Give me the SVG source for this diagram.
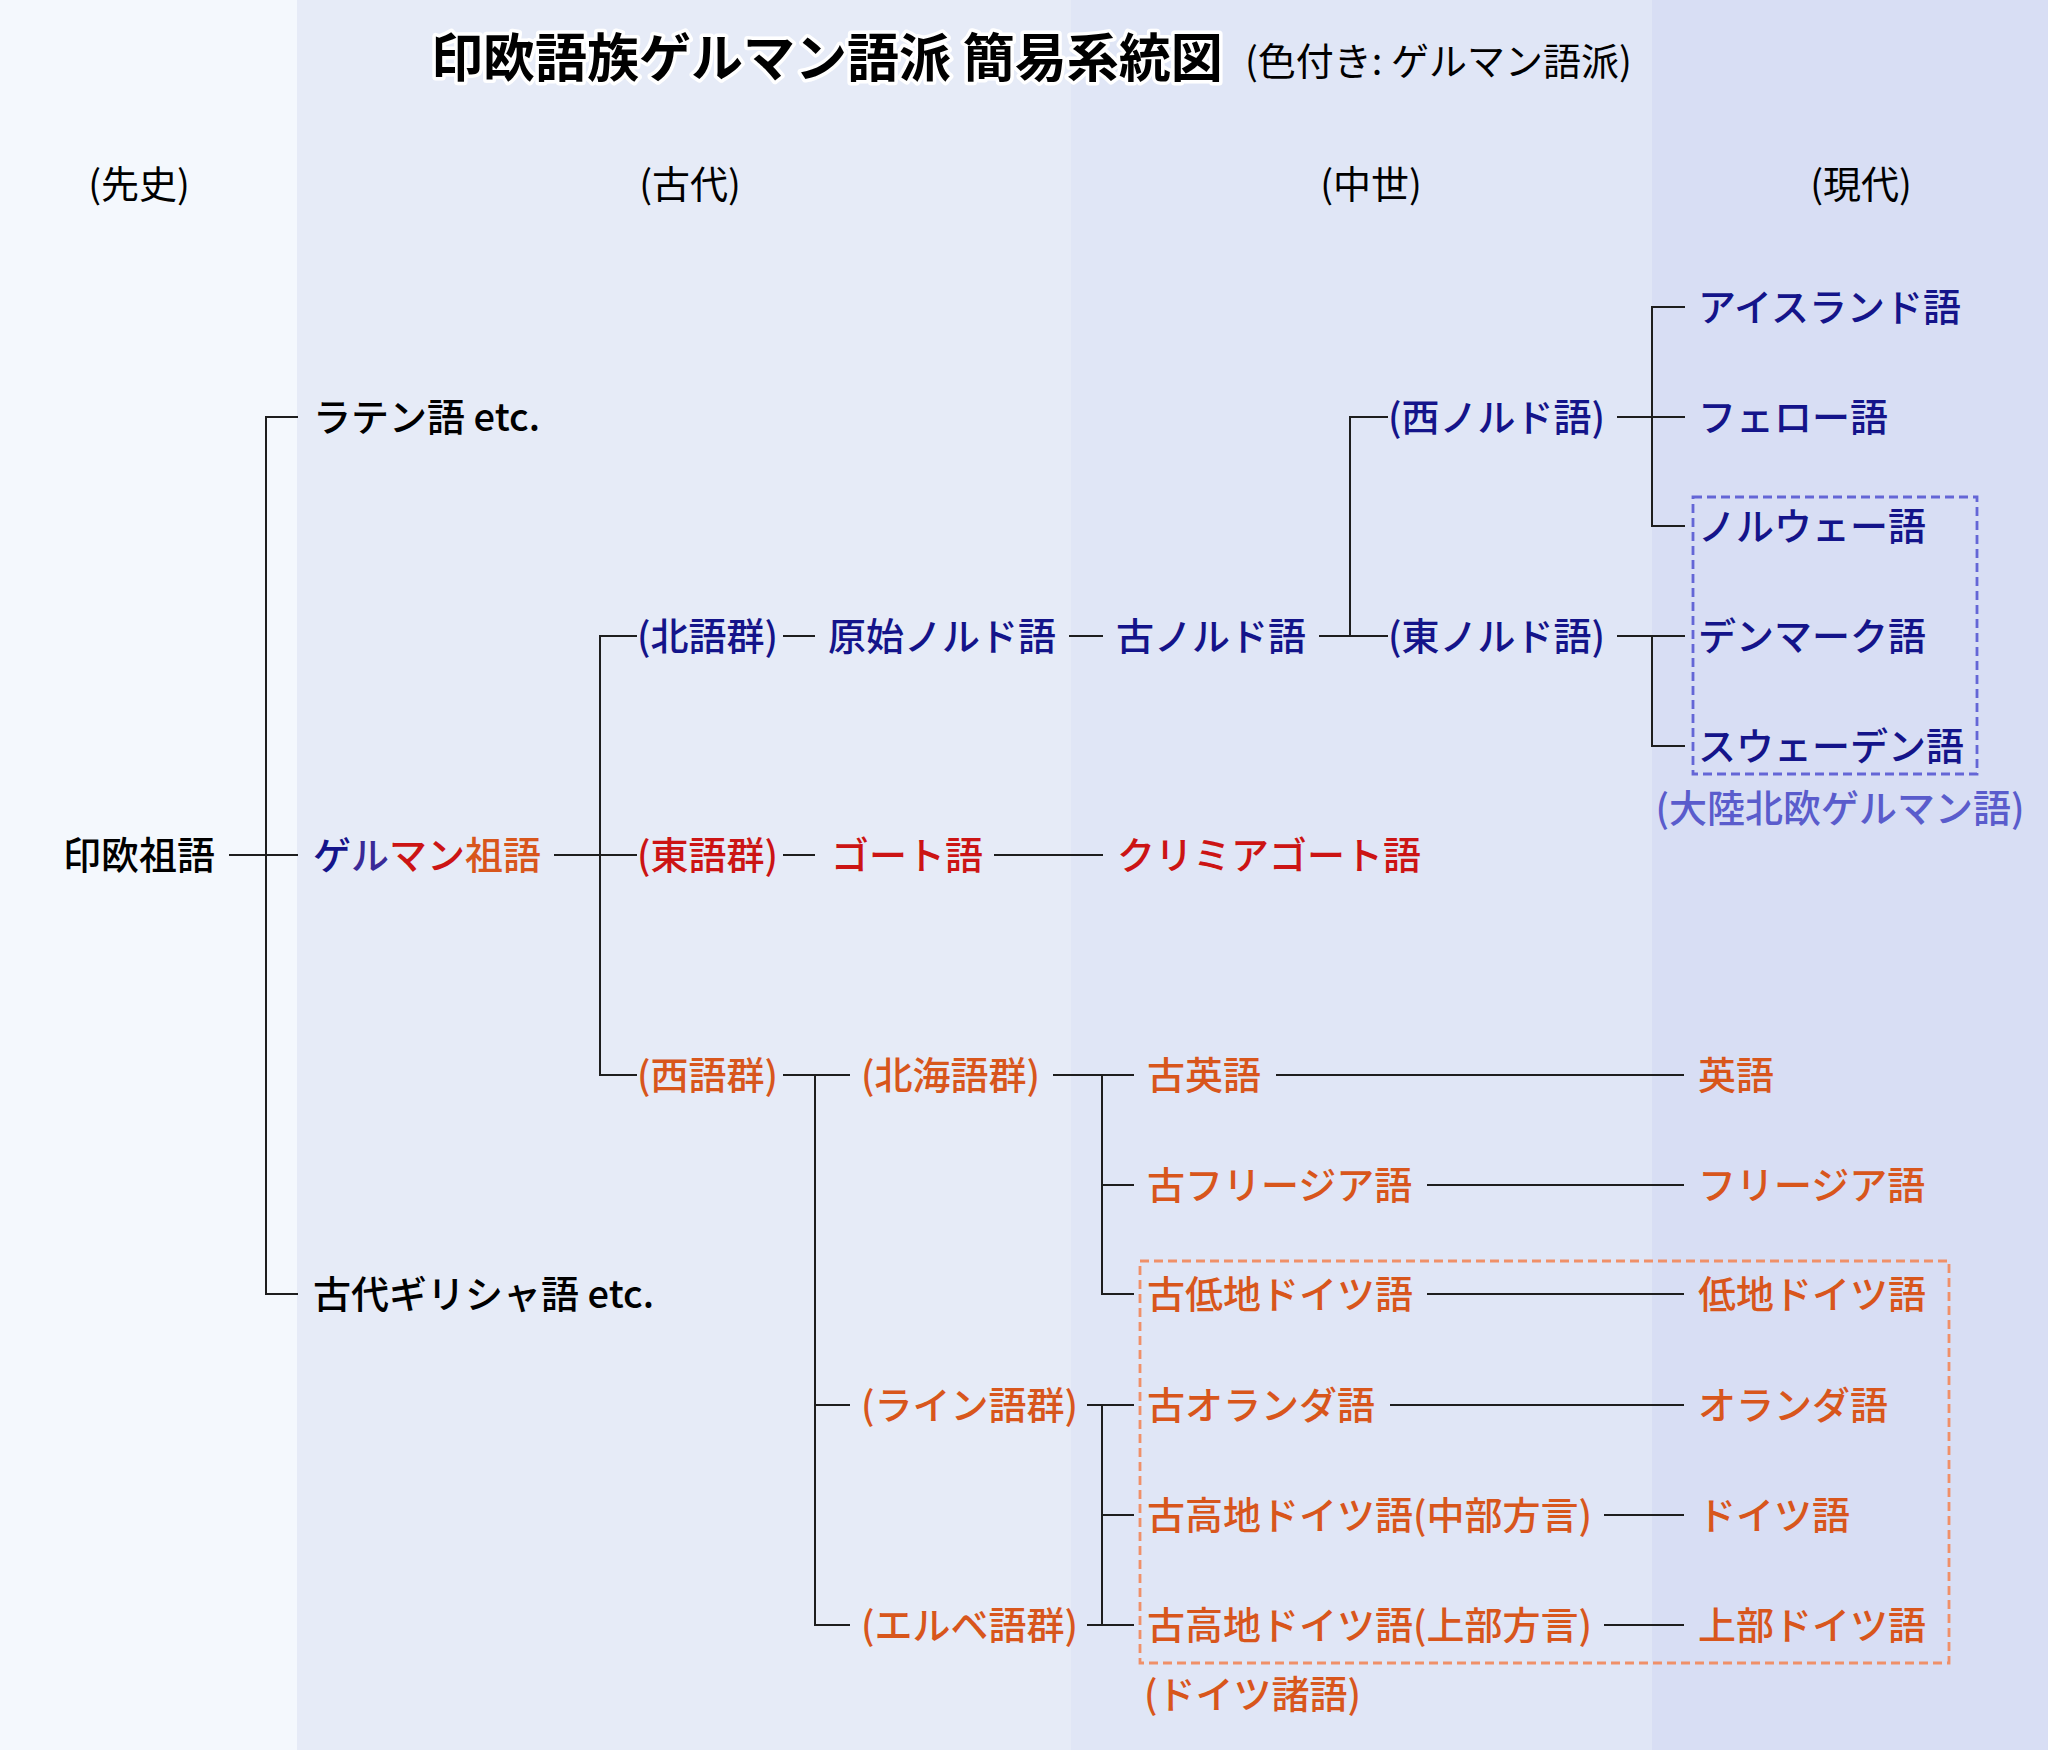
<svg xmlns="http://www.w3.org/2000/svg" width="2048" height="1750" viewBox="0 0 2048 1750">
<style>
text{font-family:"Noto Sans CJK JP","Noto Sans",sans-serif;font-size:38px;font-weight:500}
.t{font-size:52px;font-weight:700;fill:#000;stroke:#fff;stroke-width:7px;stroke-linejoin:round;paint-order:stroke}
.sub{font-weight:400;fill:#000}
.per{font-weight:400;fill:#000;text-anchor:middle}
.k{fill:#000}
.n{fill:#14148a}
.r{fill:#cc1414}
.o{fill:#d8561c}
.lb{fill:#5a5ccc;font-weight:500}
.lo{fill:#d8561c;font-weight:500}
.c line{stroke:#1e1e1e;stroke-width:2}
.box{fill:none;stroke-width:2.8;stroke-dasharray:9 5}
</style>
<g id="background">
<rect x="0" y="0" width="297" height="1750" fill="#f4f8fd"/>
<rect x="297" y="0" width="774" height="1750" fill="#e6ebf7"/>
<rect x="1071" y="0" width="581" height="1750" fill="#e0e6f6"/>
<rect x="1652" y="0" width="396" height="1750" fill="#d8def4"/>
</g>
<g id="title">
<text class="t" x="431" y="77">印欧語族ゲルマン語派 簡易系統図</text>
<text class="sub" x="1245" y="75">(色付き: ゲルマン語派)</text>
</g>
<g id="periods">
<text class="per" x="139" y="198">(先史)</text>
<text class="per" x="690" y="198">(古代)</text>
<text class="per" x="1371" y="198">(中世)</text>
<text class="per" x="1861" y="198">(現代)</text>
</g>
<g id="groups">
<rect class="box" x="1693" y="497" width="284" height="277" stroke="#6466d6"/>
<text class="lb" x="1840" y="822" text-anchor="middle">(大陸北欧ゲルマン語)</text>
<rect class="box" x="1140" y="1261" width="809" height="402" stroke="#f09068"/>
<text class="lo" x="1144" y="1708">(ドイツ諸語)</text>
</g>
<g class="c" id="connectors">
<line x1="229" y1="855" x2="298" y2="855"/>
<line x1="266" y1="416" x2="266" y2="1295"/>
<line x1="265" y1="417" x2="298" y2="417"/>
<line x1="265" y1="1294" x2="298" y2="1294"/>
<line x1="554" y1="855" x2="637" y2="855"/>
<line x1="600" y1="635" x2="600" y2="1076"/>
<line x1="599" y1="636" x2="637" y2="636"/>
<line x1="599" y1="1075" x2="637" y2="1075"/>
<line x1="783" y1="636" x2="815" y2="636"/>
<line x1="1069" y1="636" x2="1103" y2="636"/>
<line x1="1319" y1="636" x2="1388" y2="636"/>
<line x1="1350" y1="416" x2="1350" y2="637"/>
<line x1="1349" y1="417" x2="1388" y2="417"/>
<line x1="1617" y1="417" x2="1685" y2="417"/>
<line x1="1652" y1="306" x2="1652" y2="527"/>
<line x1="1651" y1="307" x2="1685" y2="307"/>
<line x1="1651" y1="526" x2="1685" y2="526"/>
<line x1="1617" y1="636" x2="1685" y2="636"/>
<line x1="1652" y1="635" x2="1652" y2="747"/>
<line x1="1651" y1="746" x2="1685" y2="746"/>
<line x1="783" y1="855" x2="815" y2="855"/>
<line x1="994" y1="855" x2="1103" y2="855"/>
<line x1="783" y1="1075" x2="850" y2="1075"/>
<line x1="815" y1="1074" x2="815" y2="1626"/>
<line x1="814" y1="1405" x2="850" y2="1405"/>
<line x1="814" y1="1625" x2="850" y2="1625"/>
<line x1="1053" y1="1075" x2="1134" y2="1075"/>
<line x1="1102" y1="1074" x2="1102" y2="1295"/>
<line x1="1101" y1="1185" x2="1134" y2="1185"/>
<line x1="1101" y1="1294" x2="1134" y2="1294"/>
<line x1="1087" y1="1405" x2="1134" y2="1405"/>
<line x1="1087" y1="1625" x2="1134" y2="1625"/>
<line x1="1102" y1="1404" x2="1102" y2="1626"/>
<line x1="1101" y1="1515" x2="1134" y2="1515"/>
<line x1="1276" y1="1075" x2="1684" y2="1075"/>
<line x1="1427" y1="1185" x2="1684" y2="1185"/>
<line x1="1427" y1="1294" x2="1684" y2="1294"/>
<line x1="1390" y1="1405" x2="1684" y2="1405"/>
<line x1="1604" y1="1515" x2="1684" y2="1515"/>
<line x1="1604" y1="1625" x2="1684" y2="1625"/>
</g>
<g id="n-pie"><text class="k" x="63" y="869">印欧祖語</text></g>
<g id="n-latin"><text class="k" x="313" y="431">ラテン語 etc.</text></g>
<g id="n-greek"><text class="k" x="313" y="1308">古代ギリシャ語 etc.</text></g>
<g id="n-pgmc"><text x="313" y="869"><tspan fill="#14148a">ゲ</tspan><tspan fill="#3a2a98">ル</tspan><tspan fill="#cc1414">マン</tspan><tspan fill="#d8561c">祖語</tspan></text></g>
<g id="n-north"><text class="n" x="637" y="650">(北語群)</text></g>
<g id="n-protonorse"><text class="n" x="828" y="650">原始ノルド語</text></g>
<g id="n-oldnorse"><text class="n" x="1116" y="650">古ノルド語</text></g>
<g id="n-westnorse"><text class="n" x="1388" y="431">(西ノルド語)</text></g>
<g id="n-eastnorse"><text class="n" x="1388" y="650">(東ノルド語)</text></g>
<g id="n-icelandic"><text class="n" x="1698" y="321">アイスランド語</text></g>
<g id="n-faroese"><text class="n" x="1698" y="431">フェロー語</text></g>
<g id="n-norwegian"><text class="n" x="1698" y="540">ノルウェー語</text></g>
<g id="n-danish"><text class="n" x="1698" y="650">デンマーク語</text></g>
<g id="n-swedish"><text class="n" x="1698" y="760">スウェーデン語</text></g>
<g id="n-east"><text class="r" x="637" y="869">(東語群)</text></g>
<g id="n-gothic"><text class="r" x="831" y="869">ゴート語</text></g>
<g id="n-crimean"><text class="r" x="1117" y="869">クリミアゴート語</text></g>
<g id="n-west"><text class="o" x="637" y="1089">(西語群)</text></g>
<g id="n-northsea"><text class="o" x="861" y="1089">(北海語群)</text></g>
<g id="n-rhine"><text class="o" x="861" y="1419">(ライン語群)</text></g>
<g id="n-elbe"><text class="o" x="861" y="1639">(エルベ語群)</text></g>
<g id="n-oe"><text class="o" x="1147" y="1089">古英語</text></g>
<g id="n-ofris"><text class="o" x="1147" y="1199">古フリージア語</text></g>
<g id="n-olg"><text class="o" x="1147" y="1308">古低地ドイツ語</text></g>
<g id="n-odutch"><text class="o" x="1147" y="1419">古オランダ語</text></g>
<g id="n-ohg-c"><text class="o" x="1147" y="1529">古高地ドイツ語(中部方言)</text></g>
<g id="n-ohg-u"><text class="o" x="1147" y="1639">古高地ドイツ語(上部方言)</text></g>
<g id="n-english"><text class="o" x="1698" y="1089">英語</text></g>
<g id="n-frisian"><text class="o" x="1698" y="1199">フリージア語</text></g>
<g id="n-lowgerman"><text class="o" x="1698" y="1308">低地ドイツ語</text></g>
<g id="n-dutch"><text class="o" x="1698" y="1419">オランダ語</text></g>
<g id="n-german"><text class="o" x="1698" y="1529">ドイツ語</text></g>
<g id="n-upper"><text class="o" x="1698" y="1639">上部ドイツ語</text></g>
</svg>
